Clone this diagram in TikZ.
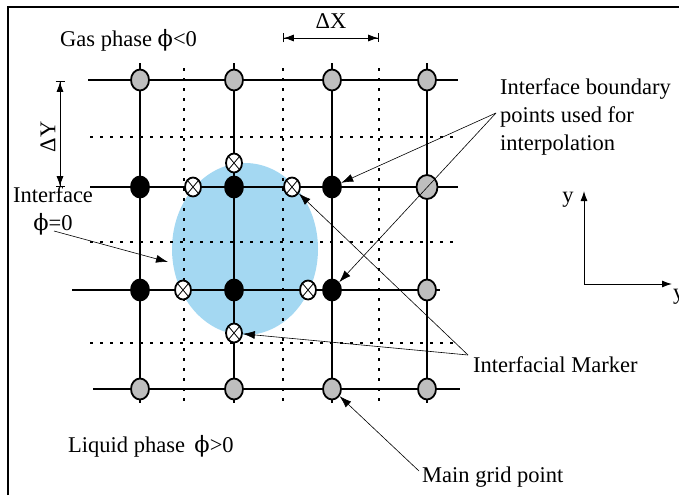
\documentclass[tikz,border=0pt]{standalone}
\usepackage{fontspec}
\setmainfont{Liberation Serif}
\newfontfamily\phifont{DejaVu Serif}
\usetikzlibrary{arrows.meta,shapes.geometric}
\definecolor{drop}{HTML}{A4D8F2}
\definecolor{pointgray}{HTML}{BEBEBE}
\newcommand{\phisym}{{\phifont ϕ}}

\begin{document}
\begin{tikzpicture}[x=1pt,y=-1pt,
 main/.style={ellipse,draw,line width=1.8pt,fill=pointgray,
 minimum width=18pt,minimum height=21pt,inner sep=0pt},
 inner/.style={main,fill=black},
 marker/.style={ellipse,draw,line width=1.8pt,fill=white,
 minimum width=16pt,minimum height=19pt,inner sep=0pt,
 path picture={\draw[line width=0.8pt]
 (path picture bounding box.south west)--(path picture bounding box.north east)
 (path picture bounding box.north west)--(path picture bounding box.south east);}},
 gridline/.style={line width=1.8pt},
 dotline/.style={line width=1.6pt,dash pattern=on 3pt off 7pt},
 lbl/.style={font=\fontsize{22.5}{28}\selectfont,inner sep=0pt},
 arr/.style={-{Latex[length=12pt,width=8pt]},line width=0.6pt},
 dim/.style={{Bar[width=9pt]Latex[length=10pt,width=7pt]}-{Latex[length=10pt,width=7pt]Bar[width=9pt]},
 line width=0.8pt},
 axis/.style={-{Latex[length=10pt,width=7pt]},line width=1pt}]
\useasboundingbox (0,0) rectangle (679,495);
% frame
\draw[line width=2.5pt] (8,495)--(8,7)--(679,7);
% interface
\fill[drop] (245,249) ellipse [x radius=73,y radius=86];
% staggered grid
\foreach \y in {137,242,343} \draw[dotline] (90,\y)--(460,\y);
\foreach \x in {184,283,379} \draw[dotline] (\x,68)--(\x,407);
% main grid
\draw[gridline] (88,80)--(458,80) (90,187)--(458,187)
 (72,290)--(440,290) (93,389)--(460,389);
\foreach \x in {140,234,332,427} \draw[gridline] (\x,63)--(\x,403);
% grid points
\foreach \x [count=\i] in {140,234,332,427} {
 \node[main] (g1\i) at (\x,80) {};
 \node[main] (g4\i) at (\x,389) {};
}
\node[main,minimum width=21pt,minimum height=24pt] (g24) at (427,187) {};
\node[main] (g34) at (427,290) {};
\foreach \x [count=\i] in {140,234,332} {
 \node[inner] (b2\i) at (\x,187) {};
 \node[inner] (b3\i) at (\x,290) {};
}
% markers
\node[marker] (m1) at (234,163) {};
\node[marker] (m2) at (193,187) {};
\node[marker] (m3) at (292,187) {};
\node[marker] (m4) at (183,290) {};
\node[marker] (m5) at (308,290) {};
\node[marker] (m6) at (234,333) {};
% labels
\node[lbl,anchor=base west] (gas) at (60,46) {Gas phase \phisym<0};
\node[lbl,anchor=base west] (liq) at (68,452) {Liquid phase\, \phisym>0};
\node[lbl,anchor=base,align=center] (iface) at (53,230) {Interface\\\phisym=0};
\node[lbl,anchor=north west,align=left] (bnd) at (500,78)
 {Interface boundary\\points used for\\interpolation};
\node[lbl,anchor=base west] (mark) at (473,372) {Interfacial Marker};
\node[lbl,anchor=base west] (grid) at (422,482) {Main grid point};
\node[lbl,anchor=base] (dxl) at (331,29) {ΔX};
\node[lbl,rotate=90] (dyl) at (48,137) {ΔY};
\node[lbl,anchor=base] (ylab) at (568,202) {y};
\node[lbl,anchor=base west] (xlab) at (673,299) {y};
% spacing
\coordinate (dxa) at (283,38);
\coordinate (dxb) at (379,38);
\coordinate (dya) at (60,81);
\coordinate (dyb) at (60,187);
\draw[dim] (dxa)--(dxb);
\draw[dim] (dya)--(dyb);
% axes
\coordinate (o) at (584,284);
\coordinate (oy) at (584,191);
\coordinate (ox) at (672,284);
\draw[axis] (o)--(oy);
\draw[axis] (o)--(ox);
% pointers
\coordinate (ifs) at (54,231);
\coordinate (ife) at (168,262);
\coordinate (bs) at (496,113);
\coordinate (ms) at (468,355);
\coordinate (gs) at (419,471);
\draw[arr] (ifs)--(ife);
\draw[arr] (bs)--(b23);
\draw[arr] (bs)--(b33);
\draw[arr] (ms)--(m3);
\draw[arr] (ms)--(m6);
\draw[arr] (gs)--(g43);
\end{tikzpicture}
\end{document}
